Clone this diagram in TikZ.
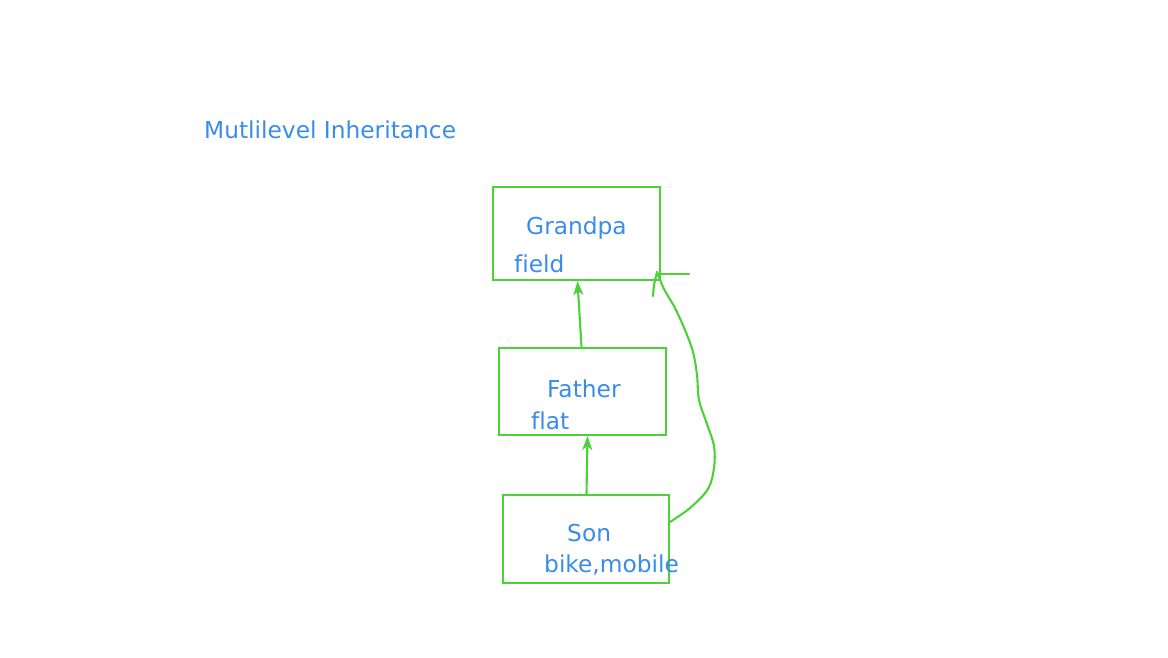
\documentclass[tikz,border=0pt]{standalone}
\usepackage{fontspec}
\setmainfont[Ligatures=NoCommon]{DejaVu Sans}
\usetikzlibrary{positioning,arrows.meta}
\definecolor{pen}{RGB}{76,209,55}
\definecolor{ink}{RGB}{58,140,235}
\tikzset{
	klass/.style={draw=pen, line width=2.1pt, inner sep=0pt},
	lbl/.style={text=ink, font=\fontsize{23.3}{27}\selectfont, inner sep=0pt, anchor=west},
	inherit/.style={draw=pen, line width=2.1pt, -{Stealth[length=14pt, width=10pt, inset=4pt]}},
	stroke/.style={draw=pen, line width=2.1pt, line cap=round, line join=round}
}

\begin{document}
\begin{tikzpicture}[x=1pt, y=-1pt]
			%%%%% START %%%%%
			\useasboundingbox (0, 0) rectangle (1168, 657);
			
			\node[lbl] (title) at (204, 130) {Mutlilevel Inheritance};
			
			\node[klass, minimum width=167, minimum height=93] (grandpa) at (576.5, 233.5) {};
			\node[lbl] (grandpaname) at (526, 228) {Grandpa};
			\node[lbl] (grandpafield) at (514, 264) {field};
			
			\node[klass, minimum width=167, minimum height=87] (father) at (582.5, 391.5) {};
			\node[lbl] (fathername) at (547, 389) {Father};
			\node[lbl] (fatherfield) at (531, 421) {flat};
			
			\node[klass, minimum width=166, minimum height=88] (son) at (586, 539) {};
			\node[lbl] (sonname) at (567, 533) {Son};
			\node[lbl] (sonfield) at (544, 565) {bike,mobile};
			
			\draw[inherit] ([xshift=-1]father.north) -- ([xshift=1]grandpa.south);
			\draw[inherit] ([xshift=0.5]son.north) -- ([xshift=5]father.south);
			
			% hand drawn path from son back to grandpa
			\coordinate (tip) at (657, 272);
			\draw[stroke] plot[smooth, tension=0.55] coordinates {([yshift=17]son.east) (690, 508) (708, 489) (714, 468)
				(714, 446) (707, 424) (699, 400) (697, 375) (693, 352) (685, 330) (675, 308) (664, 289) (tip)};
			\draw[stroke] (tip) -- (654, 285) -- (653, 296);
			\draw[stroke] (659, 274) -- (689, 274);
			
			%%%%% END %%%%%
		\end{tikzpicture}
\end{document}
